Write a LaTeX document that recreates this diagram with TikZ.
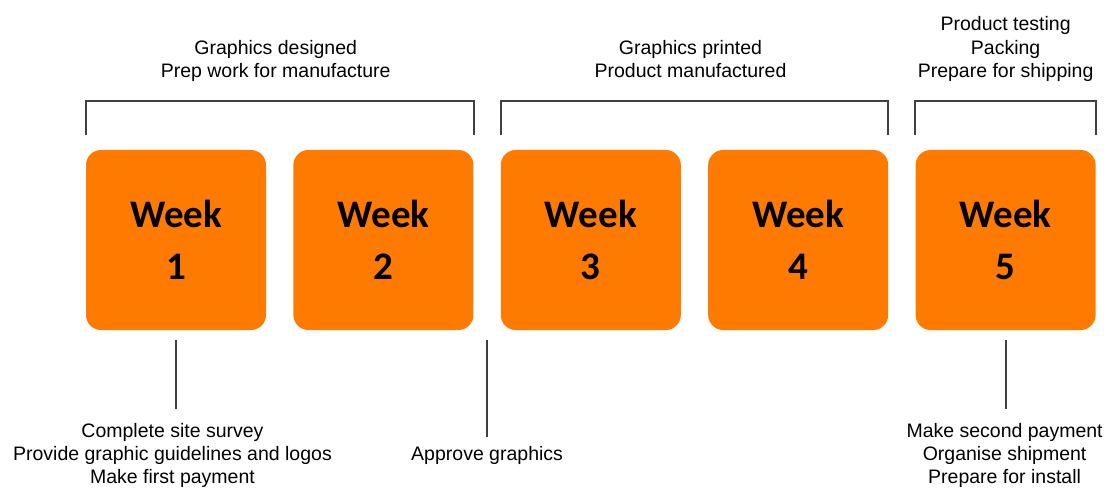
\documentclass[tikz,border=0pt]{standalone}
\usepackage{fontspec}
\setmainfont{Liberation Sans}
\newfontfamily\weekfont{Carlito}
\usetikzlibrary{positioning}
\definecolor{weekorange}{RGB}{255,122,0}
\definecolor{linegray}{RGB}{64,64,64}

\begin{document}
\begin{tikzpicture}[x=1pt,y=1pt,
    week/.style = {fill=weekorange, rounded corners=15pt, minimum size=180pt, inner sep=0pt,
                   align=center, font=\weekfont\bfseries\fontsize{39}{52}\selectfont},
    bracket/.style = {draw=linegray, line width=2pt},
    leader/.style = {draw=linegray, line width=2pt},
    phase/.style = {align=center, anchor=south, inner sep=3pt, text depth=4pt,
                    font=\fontsize{19.5}{23.5}\selectfont},
    note/.style = {align=center, anchor=north, inner sep=3pt,
                   font=\fontsize{19.5}{23}\selectfont}]
\useasboundingbox (0,0) rectangle (1109,488);
% the five weeks
\node[week] (w1) at (176,248) {Week\\1};
\node[week, right=27pt of w1] (w2) {Week\\2};
\node[week, right=27pt of w2] (w3) {Week\\3};
\node[week, right=27pt of w3] (w4) {Week\\4};
\node[week, right=27pt of w4] (w5) {Week\\5};
% brackets and what happens in them
\draw[bracket] ([yshift=15pt]w1.north west) -- ++(0,34) -| ([yshift=15pt]w2.north east);
\draw[bracket] ([yshift=15pt]w3.north west) -- ++(0,34) -| ([yshift=15pt]w4.north east);
\draw[bracket] ([yshift=15pt]w5.north west) -- ++(0,34) -| ([yshift=15pt]w5.north east);
\node[phase] (p1) at ([xshift=9.5pt,yshift=65pt]w1.north east) {Graphics designed\\Prep work for manufacture};
\node[phase] (p2) at ([xshift=9.5pt,yshift=65pt]w3.north east) {Graphics printed\\Product manufactured};
\node[phase] (p3) at ([yshift=65pt]w5.north) {Product testing\\Packing\\Prepare for shipping};
% client tasks below
\coordinate (t1) at ([yshift=-10pt]w1.south);
\coordinate (t2) at ([xshift=13.5pt,yshift=-10pt]w2.south east);
\coordinate (t3) at ([yshift=-10pt]w5.south);
\node[note] (n1) at ([xshift=-3.5pt,yshift=-80pt]t1) {Complete site survey\\Provide graphic guidelines and logos\\Make first payment};
\node[note] (n2) at ([yshift=-103pt]t2) {Approve graphics};
\node[note] (n3) at ([xshift=-1pt,yshift=-80pt]t3) {Make second payment\\Organise shipment\\Prepare for install};
\draw[leader, shorten >=11pt] (t1) -- (t1 |- n1.north);
\draw[leader, shorten >=6pt] (t2) -- (t2 |- n2.north);
\draw[leader, shorten >=11pt] (t3) -- (t3 |- n3.north);
\end{tikzpicture}
\end{document}
